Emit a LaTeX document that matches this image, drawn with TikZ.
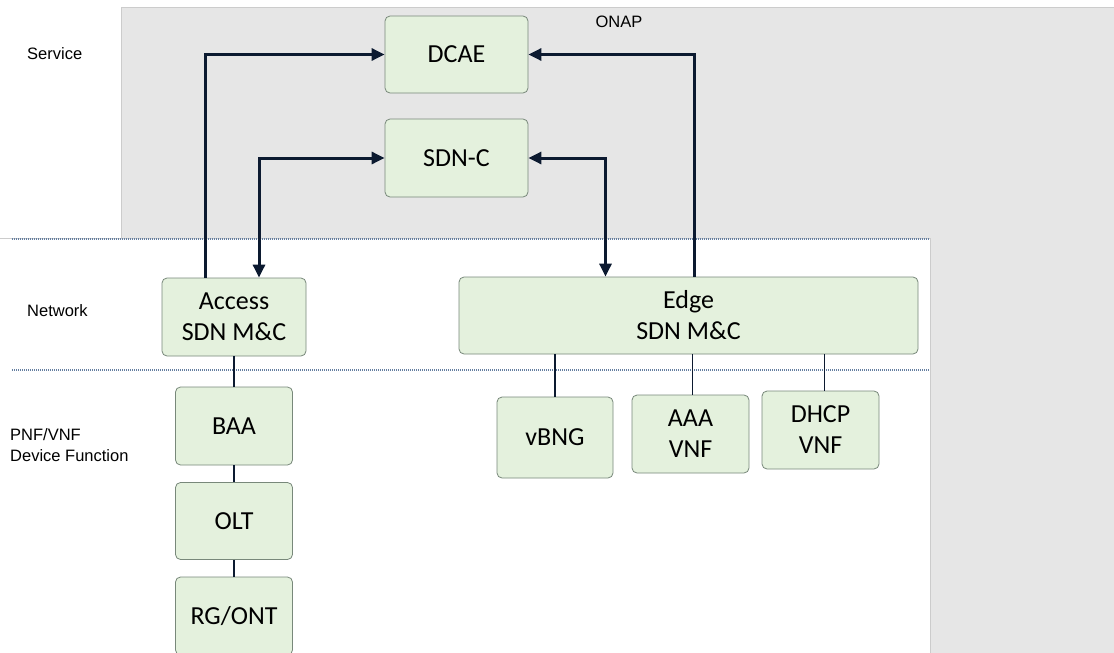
\documentclass[tikz,border=0pt]{standalone}
\usepackage{fontspec}
\setmainfont{Liberation Sans}
\newfontfamily\boxface{Carlito}
\usepackage{xcolor}
\usetikzlibrary{arrows.meta}
\definecolor{boxgreen}{RGB}{228,241,221}
\definecolor{boxline}{RGB}{120,136,122}
\definecolor{onapgray}{RGB}{230,230,230}
\definecolor{navy}{RGB}{12,26,48}
\definecolor{dotblue}{RGB}{100,126,160}

\begin{document}
\begin{tikzpicture}[
x = 1pt, y = -1pt,
funcbox/.style={rectangle, align = center, 
draw = boxline, 
fill = boxgreen, line width = 0.8pt, rounded corners = 5pt, inner sep = 0pt,
font = \boxface\fontsize{26}{31}\selectfont}, 
ctlarr/.style={>={Triangle[length=13pt,width=12pt]}, ->, line width = 3pt, draw = navy}, 
link/.style={line width = 1.2pt, draw = navy},
sepline/.style={draw = dotblue, line width = 1.2pt, dash pattern = on 1pt off 1pt},
layertext/.style={anchor = west, align = left, inner sep = 0pt, font = \fontsize{16.5}{21}\selectfont},
node distance = 95pt]

\useasboundingbox (0,0) rectangle (1114,653);

% ONAP area and the white lower part
\path[fill = onapgray, draw = gray!40] (121,7) rectangle (1125,665);
\path[fill = white, draw = gray!40] (-5,238) rectangle (930,665);
\draw[sepline] (12,239) -- (930,239);
\draw[sepline] (12,370) -- (930,370);

\node[layertext] (service) at (27,54) {Service};
\node[layertext] (network) at (27,311) {Network};
\node[layertext] (device) at (10,445) {PNF/VNF\\Device Function};
\node[font = \fontsize{16.5}{21}\selectfont] (onap) at (619,22) {ONAP};

% ONAP
\node[funcbox, minimum width = 143pt, minimum height = 77pt] (DCAE) at (456.5,54.5) {DCAE};
\node[funcbox, minimum width = 143pt, minimum height = 78pt] (SDNC) at (456.5,158) {SDN-C};

% network
\node[funcbox, minimum width = 144pt, minimum height = 78pt] (Access) at (234,317) {Access\\SDN M\&C};
\node[funcbox, minimum width = 459pt, minimum height = 77pt] (Edge) at (688.5,315.5) {Edge\\SDN M\&C};

% device functions
\node[funcbox, minimum width = 117pt, minimum height = 78pt] (BAA) at (234,426) {BAA};
\node[funcbox, minimum width = 117pt, minimum height = 77pt, below of = BAA] (OLT) {OLT};
\node[funcbox, minimum width = 117pt, minimum height = 78pt, below of = OLT] (RGONT) {RG/ONT};
\node[funcbox, minimum width = 116pt, minimum height = 81pt] (vBNG) at (555,437.5) {vBNG};
\node[funcbox, minimum width = 117pt, minimum height = 78pt] (AAA) at (690.5,434) {AAA\\VNF};
\node[funcbox, minimum width = 117pt, minimum height = 78pt] (DHCP) at (820.5,430) {DHCP\\VNF};

\draw[ctlarr] ([xshift=-29pt]Access.north) |- (DCAE.west);
\draw[ctlarr, <->] ([xshift=25pt]Access.north) |- (SDNC.west);
\draw[ctlarr, <->] (SDNC.east) -| ([xshift=-83pt]Edge.north);
\draw[ctlarr] ([xshift=6pt]Edge.north) |- (DCAE.east);

\draw[link] (Access) -- (BAA);
\draw[link] (BAA) -- (OLT);
\draw[link] (OLT) -- (RGONT);
\draw[link] (vBNG.north) -- (vBNG.north |- Edge.south);
\draw[link] ([xshift=2pt]AAA.north) -- ([xshift=2pt]AAA.north |- Edge.south);
\draw[link] ([xshift=4pt]DHCP.north) -- ([xshift=4pt]DHCP.north |- Edge.south);

\end{tikzpicture}
\end{document}
